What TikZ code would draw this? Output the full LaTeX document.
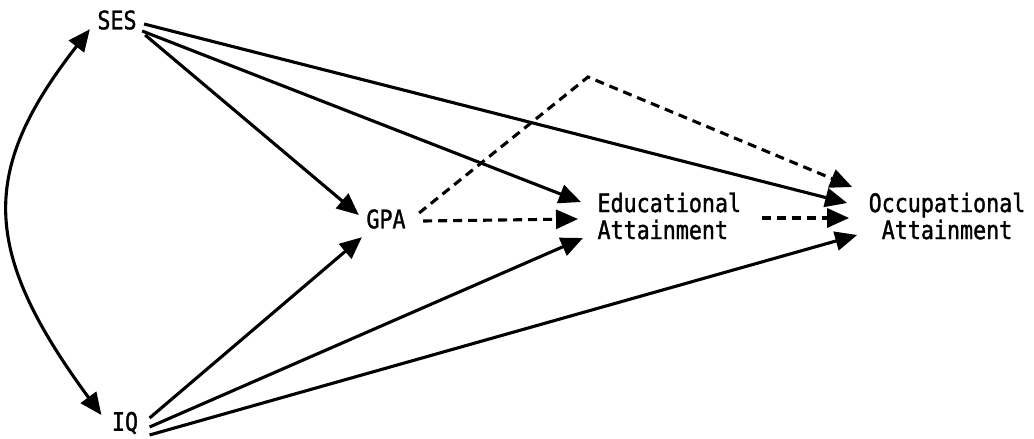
\documentclass[tikz,border=0pt]{standalone}
\usepackage{fontspec}
\newfontfamily\pathfont[FakeStretch=0.85,FakeBold=1.3]{DejaVu Sans Mono}
\usetikzlibrary{arrows.meta,calc}

\begin{document}
\begin{tikzpicture}[x=1pt, y=-1pt, ->, >={Triangle[length=22pt,width=19pt]}, line width=3.1pt]
\tikzstyle{var}=[font=\pathfont\fontsize{25.5}{27}\selectfont, inner sep=0pt]
\tikzstyle{guess}=[dash pattern=on 9pt off 6pt]
\useasboundingbox (0,0) rectangle (1034,439);

\node[var]    (SES) at (117,20)  {SES};
\node[var]    (IQ)  at (125,423) {IQ};
\node[var]    (GPA) at (386,219) {GPA};
\node[var, align=left, anchor=west]  (EDU) at (596,216) {Educational\\Attainment};
\node[var, align=center]             (OCC) at (947,216) {Occupational\\Attainment};
\coordinate (peak) at (588,77);

% correlation between the two exogenous variables
\draw[<->] ([xshift=-6pt,yshift=2pt]SES.south west) .. controls (-20,170) and (-20,250) .. ([xshift=-9pt,yshift=8pt]IQ.west);

\path
([xshift=7pt,yshift=-15pt]SES.east)  edge  ([xshift=-6pt,yshift=4pt]GPA.west)
([xshift=4pt,yshift=-11pt]SES.east)  edge  ([xshift=-15pt,yshift=14pt]EDU.west)
([xshift=6pt,yshift=-4pt]SES.east)   edge  ([xshift=-20pt,yshift=13pt]OCC.west)
([xshift=10pt,yshift=5pt]IQ.east)    edge  ([xshift=-3pt,yshift=-7pt]GPA.south west)
([xshift=10pt,yshift=-4pt]IQ.east)   edge  ([xshift=-13pt,yshift=-22pt]EDU.west)
([xshift=10pt,yshift=-12pt]IQ.east)  edge  ([xshift=-10pt,yshift=-19pt]OCC.west)
([xshift=16pt,yshift=-2pt]GPA.east)  edge[guess]  ([xshift=-18pt,yshift=-3pt]EDU.west)
([xshift=19pt,yshift=-2pt]EDU.east)  edge[guess]  ([xshift=-18pt,yshift=-2pt]OCC.west);

\draw[guess] ([xshift=12pt,yshift=6pt]GPA.east) -- (peak) -- ([xshift=-15pt,yshift=29pt]OCC.west);
\end{tikzpicture}
\end{document}
